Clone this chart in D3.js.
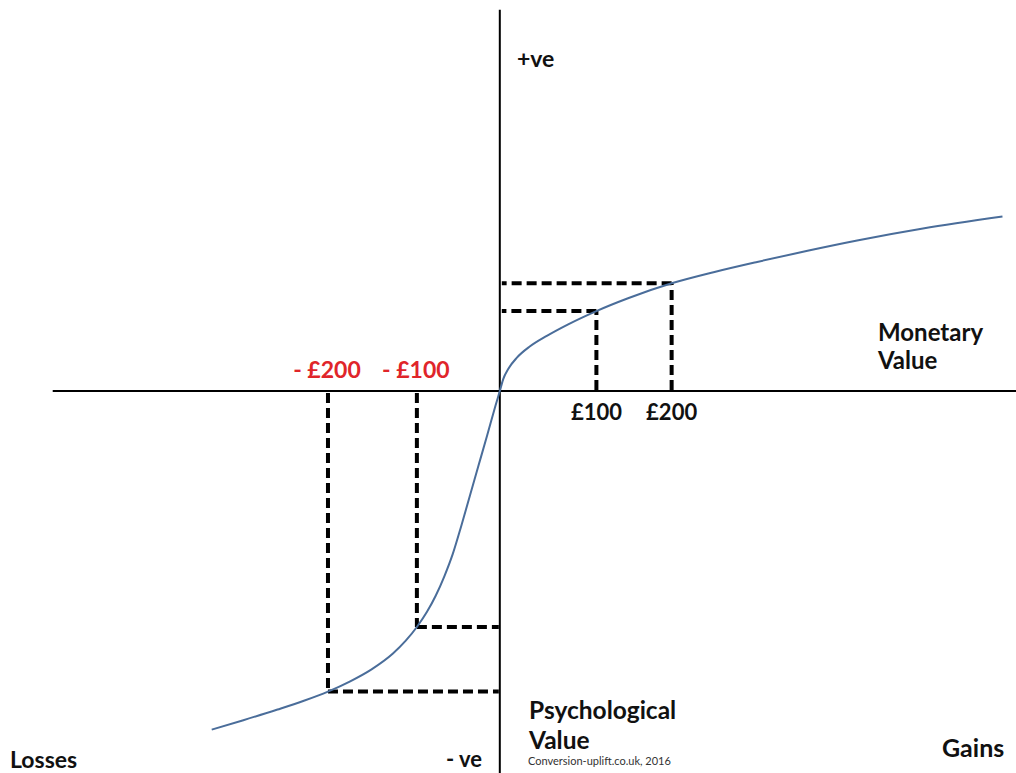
<!DOCTYPE html>
<html>
<head>
<meta charset="utf-8">
<script src="https://cdn.jsdelivr.net/npm/d3@7/dist/d3.min.js"></script>
<style>
  html, body { margin: 0; padding: 0; background: #fff; }
  svg { display: block; }
  text { font-family: Lato, "Open Sans", sans-serif; }
</style>
</head>
<body>
<svg id="chart" width="1016" height="773"></svg>
<script>
// ---- Data (monetary units on x, psychological-value units on y) ----
const curveX = [-337, -300, -260, -230, -201, -175, -150, -125, -110, -97, -85, -75, -65, -55, -45, -35, -25, -15, -5, 0,
                4, 10, 20, 35, 55, 80, 113, 150, 201, 250, 301, 360, 418, 495, 588];
const curveY = [-396, -385, -372.5, -362.5, -351.5, -339.5, -325.5, -307, -292, -276, -258, -239.5, -217, -190.5, -157.5, -122.5, -87.5, -52.5, -17, 0,
                14, 26, 39, 52, 64.5, 78, 93.5, 108.5, 126, 139, 151, 164, 176, 190, 204];

const lossLabels = ["- £200", "- £100"];
const lossX = [-201, -97];
const lossValue = [-351.5, -276];

const gainLabels = ["£100", "£200"];
const gainX = [113, 201];
const gainValue = [93.5, 126];

// ---- Scales ----
const x = d3.scaleLinear().domain([-525, 605]).range([51, 1017]);
const y = d3.scaleLinear().domain([-447, 446]).range([773.2, 9.7]);

const svg = d3.select("#chart");

// dashed guide lines
const dashStyle = g => g.attr("stroke", "#000").attr("stroke-width", 4)
  .attr("stroke-dasharray", "10,5").attr("fill", "none");

const guides = svg.append("g");
const markers = [];
lossX.forEach((v, i) => markers.push({ mx: v, mv: lossValue[i] }));
gainX.forEach((v, i) => markers.push({ mx: v, mv: gainValue[i] }));

markers.forEach(m => {
  const sign = m.mv > 0 ? 1 : -1;
  guides.append("line")
    .attr("x1", x(m.mx)).attr("x2", x(m.mx))
    .attr("y1", y(0) + (sign > 0 ? -1 : 2)).attr("y2", y(m.mv))
    .call(dashStyle);
  guides.append("line")
    .attr("x1", x(m.mx)).attr("x2", x(0) + (m.mx > 0 ? 2 : -1))
    .attr("y1", y(m.mv)).attr("y2", y(m.mv))
    .call(dashStyle);
});

// axes
svg.append("line")
  .attr("x1", x(-523)).attr("x2", x(605))
  .attr("y1", y(0)).attr("y2", y(0))
  .attr("stroke", "#000").attr("stroke-width", 2);
svg.append("line")
  .attr("x1", x(0)).attr("x2", x(0))
  .attr("y1", y(446)).attr("y2", y(-447))
  .attr("stroke", "#000").attr("stroke-width", 2);

// value curve
const pts = curveX.map((v, i) => [v, curveY[i]]);
svg.append("path")
  .datum(pts)
  .attr("d", d3.line().x(d => x(d[0])).y(d => y(d[1])).curve(d3.curveMonotoneX))
  .attr("fill", "none")
  .attr("stroke", "#4a6d9a")
  .attr("stroke-width", 2);

// loss labels (red, above axis)
svg.selectAll("text.loss").data(lossLabels).enter().append("text")
  .attr("class", "loss")
  .attr("x", (d, i) => x(lossX[i]) - 1)
  .attr("y", y(0) - 13)
  .attr("text-anchor", "middle")
  .attr("fill", "#e0252a")
  .attr("font-size", 23).attr("font-weight", 700)
  .text(d => d);

// gain labels (black, below axis)
svg.selectAll("text.gain").data(gainLabels).enter().append("text")
  .attr("class", "gain")
  .attr("x", (d, i) => x(gainX[i]))
  .attr("y", y(0) + 29)
  .attr("text-anchor", "middle")
  .attr("fill", "#111")
  .attr("font-size", 22).attr("font-weight", 700)
  .text(d => d);

// other texts
const txt = (s, tx, ty, size, weight, fill) =>
  svg.append("text").attr("x", tx).attr("y", ty)
    .attr("font-size", size).attr("font-weight", weight)
    .attr("fill", fill || "#111").text(s);

txt("+ve", 517, 67, 23, 700);
txt("Monetary", 878, 341, 24, 700);
txt("Value", 878, 369, 24, 700);
txt("Psychological", 529, 719, 24.5, 700);
txt("Value", 529, 749, 24.5, 700);
txt("Conversion-uplift.co.uk, 2016", 528, 765, 11, 400, "#333");
txt("Losses", 10, 768, 23, 700);
txt("- ve", 446, 767, 22, 700);
txt("Gains", 942, 757, 25, 700);
</script>
</body>
</html>
